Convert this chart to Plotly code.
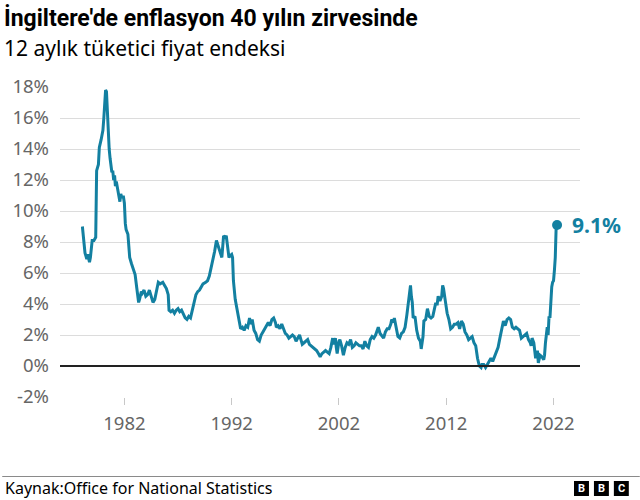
import plotly.graph_objects as go

dates = ["1978-02","1978-04","1978-05","1978-07","1978-08","1978-10","1978-11","1979-01","1979-03","1979-05",
"1979-06","1979-08","1979-09","1979-11","1980-01","1980-02","1980-03","1980-04","1980-05","1980-06",
"1980-07","1980-08","1980-09","1980-10","1980-11","1980-12","1981-01","1981-02","1981-03","1981-04",
"1981-05","1981-07","1981-08","1981-09","1981-10","1981-12","1982-01","1982-02","1982-03","1982-05",
"1982-07","1982-09","1982-11","1983-01","1983-03","1983-05","1983-06","1983-08","1983-09","1983-11",
"1984-01","1984-03","1984-05","1984-07","1984-09","1984-11","1985-01","1985-03","1985-05","1985-08",
"1985-10","1985-12","1986-02","1986-03","1986-05","1986-07","1986-09","1986-11","1987-01","1987-03",
"1987-05","1987-07","1987-09","1987-11","1988-01","1988-03","1988-05","1988-07","1988-09","1988-11",
"1989-01","1989-03","1989-05","1989-08","1989-10","1989-12","1990-02","1990-04","1990-06","1990-08",
"1990-10","1990-12","1991-02","1991-04","1991-06","1991-07","1991-08","1991-10","1991-11","1992-01",
"1992-02","1992-03","1992-05","1992-07","1992-09","1992-11","1993-01","1993-03","1993-05","1993-07",
"1993-09","1993-10","1993-12","1994-02","1994-04","1994-06","1994-08","1994-10","1994-12","1995-02",
"1995-04","1995-06","1995-08","1995-10","1995-12","1996-02","1996-03","1996-05","1996-07","1996-09",
"1996-11","1997-01","1997-03","1997-05","1997-07","1997-09","1997-11","1998-01","1998-03","1998-05",
"1998-07","1998-08","1998-10","1998-12","1999-02","1999-04","1999-06","1999-08","1999-10","1999-12",
"2000-02","2000-04","2000-06","2000-08","2000-10","2000-12","2001-02","2001-04","2001-06","2001-07",
"2001-09","2001-10","2001-11","2002-01","2002-02","2002-04","2002-05","2002-06","2002-08","2002-10",
"2002-12","2003-02","2003-04","2003-06","2003-08","2003-10","2003-12","2004-02","2004-04","2004-06",
"2004-08","2004-10","2004-12","2005-02","2005-04","2005-06","2005-08","2005-09","2005-11","2006-01",
"2006-03","2006-05","2006-07","2006-09","2006-11","2006-12","2007-02","2007-03","2007-05","2007-07",
"2007-09","2007-11","2008-01","2008-03","2008-05","2008-07","2008-09","2008-10","2008-11","2008-12",
"2009-02","2009-04","2009-06","2009-08","2009-09","2009-11","2009-12","2010-02","2010-04","2010-06",
"2010-08","2010-10","2010-12","2011-01","2011-03","2011-04","2011-06","2011-08","2011-09","2011-10",
"2011-12","2012-02","2012-04","2012-06","2012-08","2012-10","2012-12","2013-02","2013-04","2013-06",
"2013-08","2013-10","2013-12","2014-02","2014-04","2014-06","2014-08","2014-10","2014-12","2015-02",
"2015-04","2015-05","2015-07","2015-09","2015-11","2016-01","2016-03","2016-05","2016-07","2016-09",
"2016-11","2017-01","2017-03","2017-05","2017-07","2017-09","2017-11","2018-01","2018-03","2018-05",
"2018-07","2018-09","2018-11","2019-01","2019-03","2019-05","2019-07","2019-09","2019-11","2019-12",
"2020-01","2020-03","2020-05","2020-07","2020-08","2020-10","2020-12","2021-02","2021-03","2021-04",
"2021-05","2021-06","2021-07","2021-08","2021-09","2021-10","2021-11","2021-12","2022-01","2022-02",
"2022-03","2022-04","2022-05"]

cpi = [9.0,8.0,7.3,6.9,7.2,6.7,7.0,8.1,8.1,8.3,
12.6,13.0,14.1,14.6,15.2,16.0,16.8,17.8,17.7,16.5,
14.8,14.0,13.4,13.0,12.5,12.6,12.0,12.3,11.6,11.9,
11.5,10.8,10.6,11.1,10.9,10.9,10.5,9.2,8.8,8.5,
7.0,6.6,6.3,5.9,5.0,4.1,4.3,4.8,4.7,4.9,
4.5,4.6,4.9,4.5,4.1,4.3,4.9,5.4,5.3,5.4,
5.2,5.0,4.6,3.6,3.5,3.6,3.4,3.6,3.7,3.5,
3.6,3.3,3.1,3.0,3.2,3.1,3.6,4.2,4.6,4.8,
4.9,5.1,5.3,5.4,5.5,5.8,6.3,6.9,7.4,8.1,
7.7,7.4,7.0,8.4,8.3,8.4,7.9,7.0,7.1,7.2,
7.0,5.5,4.3,3.6,3.0,2.4,2.5,2.3,2.6,2.5,
3.1,2.7,3.0,2.3,2.1,1.7,1.6,2.0,2.2,2.4,
2.6,2.8,2.6,3.0,3.1,2.8,2.5,2.6,2.4,2.7,
2.4,2.1,2.0,1.8,1.9,2.0,1.9,1.6,1.8,2.0,
1.6,1.4,1.5,1.6,1.7,1.4,1.3,1.2,1.1,1.0,
0.8,0.6,0.8,0.9,1.0,0.9,0.8,1.2,1.8,1.4,
1.8,1.2,0.8,1.6,1.7,1.3,0.8,0.7,1.2,1.5,
1.4,1.7,1.2,1.3,1.5,1.4,1.3,1.3,1.1,1.6,
1.3,1.2,1.7,1.9,1.8,2.0,2.4,2.5,2.1,1.9,
1.8,2.2,2.4,2.4,2.7,3.0,2.8,3.1,2.5,1.9,
1.8,2.1,2.2,2.5,3.3,4.4,5.2,4.5,4.1,3.1,
3.2,2.3,1.8,1.6,1.1,1.9,2.9,3.0,3.7,3.2,
3.1,3.2,3.7,4.0,4.0,4.5,4.2,4.5,5.2,5.0,
4.2,3.4,3.0,2.4,2.5,2.7,2.7,2.8,2.4,2.9,
2.7,2.2,2.0,1.7,1.8,1.9,1.5,1.3,0.5,0.0,
-0.1,0.1,0.1,-0.1,0.1,0.3,0.5,0.3,0.6,1.0,
1.2,1.8,2.3,2.9,2.6,3.0,3.1,3.0,2.5,2.4,
2.5,2.4,2.3,1.8,1.9,2.0,2.1,1.7,1.5,1.3,
1.8,1.5,0.5,1.0,0.2,0.7,0.6,0.4,0.7,1.5,
2.1,2.5,2.0,3.2,3.1,4.2,5.1,5.4,5.5,6.2,
7.0,9.0,9.1]

y_ticks = [-2, 0, 2, 4, 6, 8, 10, 12, 14, 16, 18]
y_tick_text = [f"{v}%" for v in y_ticks]
x_ticks = ["1982-01-01", "1992-01-01", "2002-01-01", "2012-01-01", "2022-01-01"]
x_tick_text = ["1982", "1992", "2002", "2012", "2022"]

title = "İngiltere'de enflasyon 40 yılın zirvesinde"
subtitle = "12 aylık tüketici fiyat endeksi"
source = "Kaynak:Office for National Statistics"
end_label = "9.1%"

LINE = "#1380A1"
FONT = "Noto Sans"
W, H = 640, 500
L, R, T, B = 58, 60, 87, 103
pw, ph = W - L - R, H - T - B

def px(x):
    return (x - L) / pw

def py(y):
    return (H - B - y) / ph

fig = go.Figure()
fig.add_trace(go.Scatter(x=dates, y=cpi, mode="lines",
                         line=dict(color=LINE, width=3), hoverinfo="skip"))
fig.add_trace(go.Scatter(x=[dates[-1]], y=[cpi[-1]], mode="markers",
                         marker=dict(color=LINE, size=10), hoverinfo="skip"))

shapes = []
shapes.append(dict(type="line", xref="paper", yref="y", x0=0, x1=1, y0=0, y1=0,
                   line=dict(color="#222222", width=2)))
shapes.append(dict(type="line", xref="paper", yref="paper", x0=px(0), x1=px(W),
                   y0=py(476.5), y1=py(476.5), line=dict(color="#8a8a8a", width=1)))
annotations = []
for i, letter in enumerate(["B", "B", "C"]):
    x0 = 574 + i * 20
    shapes.append(dict(type="rect", xref="paper", yref="paper",
                       x0=px(x0), x1=px(x0 + 15), y0=py(496), y1=py(481),
                       fillcolor="#000000", line=dict(width=0)))
    annotations.append(dict(text=f"<b>{letter}</b>", xref="paper", yref="paper",
                            x=px(x0 + 7.5), y=py(488.5), showarrow=False,
                            xanchor="center", yanchor="middle",
                            font=dict(family="Roboto", size=11, color="#ffffff")))

annotations.append(dict(text=f"<b>{title}</b>", xref="paper", yref="paper",
                        x=px(0), y=py(18), xanchor="left", yanchor="middle",
                        showarrow=False,
                        font=dict(family="Roboto", size=23, color="#000000")))
annotations.append(dict(text=subtitle, xref="paper", yref="paper",
                        x=px(0), y=py(48), xanchor="left", yanchor="middle",
                        showarrow=False,
                        font=dict(family=FONT, size=21, color="#000000")))
annotations.append(dict(text=source, xref="paper", yref="paper",
                        x=px(1), y=py(488), xanchor="left", yanchor="middle",
                        showarrow=False,
                        font=dict(family=FONT, size=16, color="#000000")))
annotations.append(dict(text=f"<b>{end_label}</b>", x=dates[-1], y=cpi[-1],
                        xref="x", yref="y", xanchor="left", yanchor="middle",
                        xshift=13, showarrow=False,
                        font=dict(family=FONT, size=21, color=LINE)))

fig.update_layout(
    width=W, height=H,
    margin=dict(l=L, r=R, t=T, b=B, pad=0),
    paper_bgcolor="#ffffff", plot_bgcolor="#ffffff",
    showlegend=False,
    shapes=shapes, annotations=annotations,
    font=dict(family=FONT, color="#666666"),
)
fig.update_xaxes(range=["1976-01-01", "2024-06-20"], tickvals=x_ticks, ticktext=x_tick_text,
                 showgrid=False, zeroline=False, showline=False,
                 ticks="outside", ticklen=7, tickcolor="#c8c8c8", tickwidth=1,
                 ticklabelstandoff=3,
                 tickfont=dict(family=FONT, size=18.5, color="#666666"))
fig.update_yaxes(range=[-2, 18], tickvals=y_ticks, ticktext=y_tick_text,
                 showgrid=True, gridcolor="#dcdcdc", gridwidth=1,
                 zeroline=False, showline=False, ticks="", ticklabelstandoff=10,
                 tickfont=dict(family=FONT, size=18.5, color="#666666"))

fig.write_html("out.html", config={"displayModeBar": False, "staticPlot": True},
               post_script="document.body.style.margin='0';")
